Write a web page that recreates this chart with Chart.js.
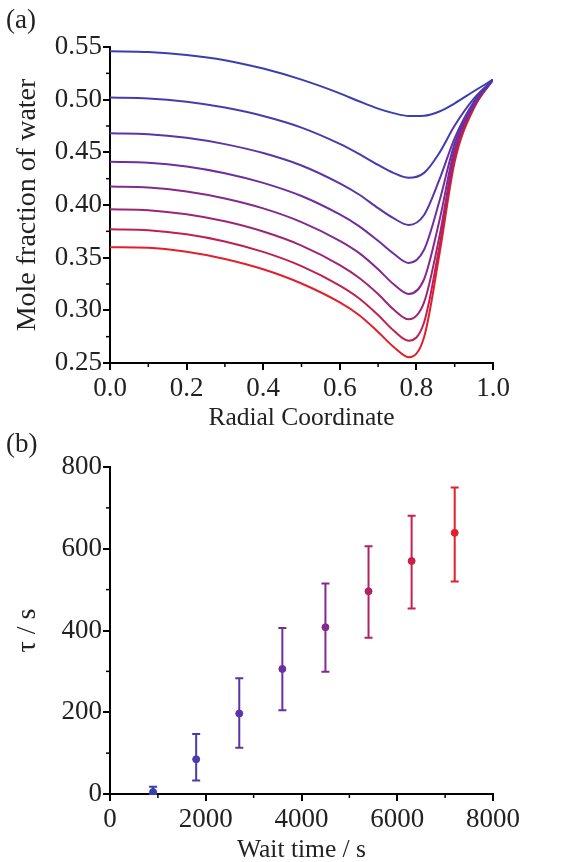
<!DOCTYPE html>
<html>
<head>
<meta charset="utf-8">
<script src="https://cdn.jsdelivr.net/npm/chart.js@4"></script>
<style>
  body { margin: 0; background: #fff; font-family: "Liberation Serif", serif; }
  .panel { position: relative; width: 582px; }
  .tag { position: absolute; left: 6px; font-size: 27px; color: #222; }
</style>
</head>
<body>
<div class="panel" style="height:430px"><span class="tag" style="top:4px">(a)</span><canvas id="chartA" width="582" height="430"></canvas></div>
<div class="panel" style="height:432px"><span class="tag" style="top:-2px">(b)</span><canvas id="chartB" width="582" height="432"></canvas></div>
<script>
// ── Data ──────────────────────────────────────────────────────
const radial = [0, 0.1, 0.2, 0.3, 0.4, 0.5, 0.6, 0.65, 0.7, 0.74, 0.78, 0.82, 0.86, 0.9, 0.95, 1.0];
const profiles = [
    [.546, .5453, .5425, .5375, .5295, .519, .506, .4985, .4915, .4872, .4845, .4848, .4888, .4965, .508, .519],
    [.502, .5012, .498, .4925, .4845, .4735, .458, .4485, .438, .4305, .4258, .4305, .4495, .4755, .501, .519],
    [.468, .4672, .4638, .4578, .4493, .4375, .4205, .41, .397, .3875, .381, .3905, .424, .4635, .498, .519],
    [.441, .4402, .4366, .4302, .421, .4085, .391, .38, .366, .354, .345, .3575, .4035, .4585, .496, .519],
    [.4175, .4166, .4128, .4062, .3968, .3838, .366, .3545, .339, .325, .3155, .3295, .385, .4535, .4948, .519],
    [.396, .3951, .3912, .3845, .3748, .3615, .343, .331, .3155, .301, .2915, .3075, .37, .449, .4938, .519],
    [.377, .3761, .3722, .3654, .3555, .342, .3235, .3115, .2955, .281, .2712, .2885, .3605, .445, .4928, .519],
    [.360, .3595, .3556, .3488, .339, .3255, .3075, .2955, .2795, .2655, .2555, .2745, .353, .441, .4918, .519]
];
const curveColors = ["#3a3fb0", "#4a3aae", "#5a35a8", "#6e2ea0", "#842a8c", "#9e2574", "#c02050", "#e41e2a"];

const waitTimes = [900, 1800, 2700, 3600, 4500, 5400, 6300, 7200];
const tau       = [5, 85, 197, 306, 408, 496, 570, 639];
const tauLow    = [0, 33, 113, 205, 299, 382, 454, 520];
const tauHigh   = [18, 147, 283, 406, 515, 606, 681, 750];
const pointColors = ["#3a3fb0", "#4a3aae", "#5a35a8", "#6e2ea0", "#842a8c", "#b02260", "#c8204a", "#e41e2a"];

const FONT = "Liberation Serif";
const INK = "#222";

// ── Minor ticks + error bars ──────────────────────────────────
const minorTicks = {
    id: "minorTicks",
    afterDraw(chart, args, opts) {
        const { ctx, chartArea } = chart;
        ctx.save();
        ctx.strokeStyle = "#000";
        ctx.lineWidth = 1.5;
        opts.x.forEach(v => {
            const px = chart.scales.x.getPixelForValue(v);
            ctx.beginPath(); ctx.moveTo(px, chartArea.bottom); ctx.lineTo(px, chartArea.bottom + 4); ctx.stroke();
        });
        opts.y.forEach(v => {
            const py = chart.scales.y.getPixelForValue(v);
            ctx.beginPath(); ctx.moveTo(chartArea.left, py); ctx.lineTo(chartArea.left - 4, py); ctx.stroke();
        });
        ctx.restore();
    }
};

const errorBars = {
    id: "errorBars",
    beforeDatasetsDraw(chart) {
        if (!chart.options.plugins.errorBars) return;
        const { ctx, scales: { x, y } } = chart;
        ctx.save();
        ctx.lineWidth = 2;
        waitTimes.forEach((t, i) => {
            const px = x.getPixelForValue(t);
            const lo = y.getPixelForValue(tauLow[i]);
            const hi = y.getPixelForValue(tauHigh[i]);
            ctx.strokeStyle = pointColors[i];
            ctx.beginPath();
            ctx.moveTo(px, lo); ctx.lineTo(px, hi);
            ctx.moveTo(px - 4, lo); ctx.lineTo(px + 4, lo);
            ctx.moveTo(px - 4, hi); ctx.lineTo(px + 4, hi);
            ctx.stroke();
        });
        ctx.restore();
    }
};

function axis(min, max, step, title, fixed, decimals, isX) {
    return {
        type: "linear", min, max,
        border: { color: "#000", width: 2 },
        grid: { drawOnChartArea: false, color: "#000", lineWidth: 2, tickLength: 7 },
        ticks: {
            stepSize: step, color: INK, padding: isX ? 3 : 1,
            font: { family: FONT, size: 27 },
            callback: v => decimals ? v.toFixed(decimals) : String(v)
        },
        title: { display: true, text: title, color: INK, font: { family: FONT, size: isX ? 25.5 : 28 }, padding: isX ? { top: 1, bottom: -4 } : { bottom: 0 } },
        afterFit: s => { if (isX) s.height = fixed; else s.width = fixed; }
    };
}

// ── Chart (a) ─────────────────────────────────────────────────
new Chart(document.getElementById("chartA"), {
    type: "line",
    data: {
        datasets: profiles.map((p, i) => ({
            data: radial.map((r, j) => ({ x: r, y: p[j] })),
            borderColor: curveColors[i], borderWidth: 2,
            pointRadius: 0, cubicInterpolationMode: "monotone", fill: false
        }))
    },
    options: {
        responsive: false, animation: false,
        layout: { padding: { top: 47, right: 89, left: 7 } },
        plugins: {
            legend: { display: false }, tooltip: { enabled: false },
            minorTicks: { x: [0.1, 0.3, 0.5, 0.7, 0.9], y: [0.275, 0.325, 0.375, 0.425, 0.475, 0.525] }
        },
        scales: {
            x: axis(0, 1, 0.2, "Radial Coordinate", 67, 1, true),
            y: axis(0.25, 0.55, 0.05, "Mole fraction of water", 103, 2, false)
        }
    },
    plugins: [minorTicks]
});

// ── Chart (b) ─────────────────────────────────────────────────
new Chart(document.getElementById("chartB"), {
    type: "scatter",
    data: {
        datasets: [{
            data: waitTimes.map((t, i) => ({ x: t, y: tau[i] })),
            pointBackgroundColor: pointColors, pointBorderColor: pointColors,
            pointRadius: 3.5
        }]
    },
    options: {
        responsive: false, animation: false,
        layout: { padding: { top: 37, right: 89, left: 7 } },
        plugins: {
            legend: { display: false }, tooltip: { enabled: false }, errorBars: true,
            minorTicks: { x: [1000, 3000, 5000, 7000], y: [100, 300, 500, 700] }
        },
        scales: {
            x: axis(0, 8000, 2000, "Wait time / s", 68, 0, true),
            y: axis(0, 800, 200, "τ / s", 103, 0, false)
        }
    },
    plugins: [minorTicks, errorBars]
});
</script>
</body>
</html>
